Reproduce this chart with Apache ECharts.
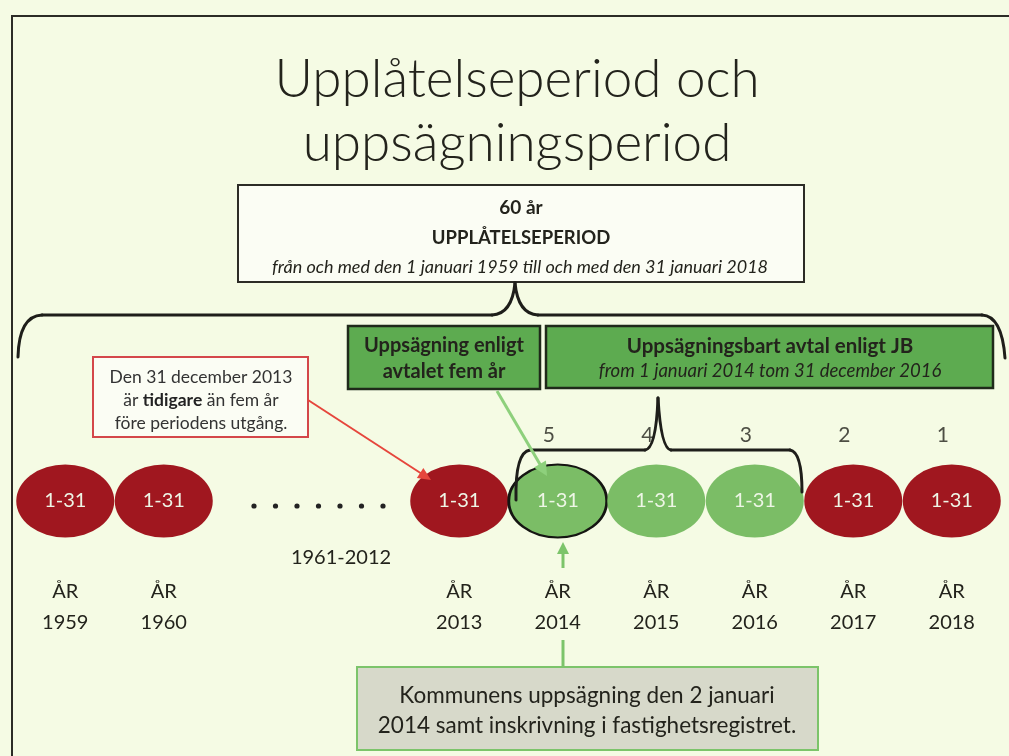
<!DOCTYPE html>
<html>
<head>
<meta charset="utf-8">
<script src="https://cdn.jsdelivr.net/npm/echarts@6/dist/echarts.min.js"></script>
<style>
  html, body { margin: 0; padding: 0; background: #f5fbe4; }
  #chart { width: 1009px; height: 756px; }
</style>
</head>
<body>
<div id="chart"></div>
<script>
  // slots on the time line, two empty ones stand for 1961-2012
  const years = ['1959', '1960', '', '', '2013', '2014', '2015', '2016', '2017', '2018'];
  const status = ['closed', 'closed', null, null, 'closed', 'open', 'open', 'open', 'closed', 'closed'];
  const countdown = [null, null, null, null, null, 5, 4, 3, 2, 1];
  const dayRange = '1-31';
  const noticeYear = '2014';

  const FONT = 'Lato, "Open Sans", sans-serif';
  const RED = '#a0171f';
  const GREEN = '#7bbd66';
  const INK = '#23231c';

  let myChart = echarts.init(document.getElementById('chart'));

  function arrowHead(x1, y1, x2, y2, len, half, color) {
    const a = Math.atan2(y2 - y1, x2 - x1);
    const bx = x2 - len * Math.cos(a), by = y2 - len * Math.sin(a);
    const nx = -Math.sin(a) * half, ny = Math.cos(a) * half;
    return {
      type: 'polygon', z: 20,
      shape: { points: [[x2, y2], [bx + nx, by + ny], [bx - nx, by - ny]] },
      style: { fill: color }
    };
  }

  function txt(x, y, text, font, fill, extra) {
    return Object.assign({
      type: 'text', z: 20, x: x, y: y,
      style: { text: text, font: font, fill: fill || INK, align: 'center', verticalAlign: 'middle' }
    }, extra || {});
  }

  // curly brace from straight lines and quadratic curves
  function brace(pts) {
    const els = [];
    const st = { stroke: '#1e1e1a', lineWidth: 3, fill: null, lineCap: 'round' };
    for (const p of pts) {
      if (p.length === 4) {
        els.push({ type: 'line', z: 12, shape: { x1: p[0], y1: p[1], x2: p[2], y2: p[3] }, style: st });
      } else {
        els.push({ type: 'bezierCurve', z: 12, shape: { x1: p[0], y1: p[1], cpx1: p[2], cpy1: p[3], x2: p[4], y2: p[5] }, style: st });
      }
    }
    return els;
  }

  const dots = [];
  for (let i = 0; i < 7; i++) {
    dots.push({ type: 'circle', z: 20, shape: { cx: 254 + i * 21.5, cy: 506, r: 2.6 }, style: { fill: '#222' } });
  }

  let option = {
    backgroundColor: '#f5fbe4',
    animation: false,
    grid: { left: 16, right: 8, top: 465, bottom: 219 },
    xAxis: {
      type: 'category',
      data: years,
      axisLine: { show: false },
      axisTick: { show: false },
      axisLabel: {
        interval: 0,
        margin: 39,
        fontFamily: FONT,
        fontSize: 20,
        lineHeight: 31,
        color: INK,
        formatter: v => v ? 'ÅR\n' + v : ''
      }
    },
    yAxis: { type: 'value', min: 0, max: 1, show: false },
    series: [
      {
        name: 'år',
        type: 'scatter',
        symbol: 'circle',
        symbolSize: [98, 73],
        z: 5,
        data: years.map((y, i) => {
          if (!status[i]) return '-';
          const item = {
            value: 0.5,
            itemStyle: { color: status[i] === 'open' ? GREEN : RED, opacity: 1 }
          };
          if (y === noticeYear) {
            item.itemStyle.borderColor = '#151512';
            item.itemStyle.borderWidth = 2.5;
            item.z = 8;
          }
          return item;
        }),
        label: {
          show: true,
          position: 'inside',
          formatter: () => dayRange,
          color: '#eef6e6',
          fontFamily: FONT,
          fontSize: 20
        }
      },
      {
        name: 'kvar',
        type: 'scatter',
        symbolSize: 0,
        data: countdown.map(c => c == null ? '-' : 0.5),
        label: {
          show: true,
          position: 'top',
          distance: 55,
          offset: [-9, 0],
          formatter: p => countdown[p.dataIndex],
          color: INK,
          fontFamily: FONT,
          fontSize: 21
        }
      }
    ],
    graphic: [
      // frame
      { type: 'polyline', z: 1, shape: { points: [[1009, 16], [12, 16], [12, 756]] }, style: { stroke: '#2c2c26', lineWidth: 2, fill: null } },
      // title
      txt(517, 80, 'Upplåtelseperiod och', '300 53px ' + FONT),
      txt(517, 144, 'uppsägningsperiod', '300 53px ' + FONT),
      // 60 år box
      { type: 'rect', z: 10, shape: { x: 238, y: 185, width: 566, height: 97 }, style: { fill: '#fbfdf4', stroke: '#2c2c26', lineWidth: 2 } },
      txt(521, 208, '60 år', 'bold 19px ' + FONT),
      txt(521, 238, 'UPPLÅTELSEPERIOD', 'bold 18.5px ' + FONT),
      txt(520, 267, 'från och med den 1 januari 1959 till och med den 31 januari 2018', 'italic 18px ' + FONT),
      // big brace
      ...brace([
        [18, 357, 19, 316, 42, 315],
        [42, 315, 492, 315],
        [492, 315, 512, 314, 515, 283],
        [515, 283, 518, 314, 538, 315],
        [538, 315, 982, 315],
        [982, 315, 1002, 316, 1005, 358]
      ]),
      // green boxes
      { type: 'rect', z: 10, shape: { x: 348, y: 326, width: 192, height: 63 }, style: { fill: '#5dab50', stroke: '#1f2a1a', lineWidth: 2.5 } },
      txt(444, 346, 'Uppsägning enligt', 'bold 20px ' + FONT),
      txt(444, 372, 'avtalet fem år', 'bold 20px ' + FONT),
      { type: 'rect', z: 10, shape: { x: 546, y: 326, width: 447, height: 62 }, style: { fill: '#5dab50', stroke: '#1f2a1a', lineWidth: 2.5 } },
      txt(770, 346, 'Uppsägningsbart avtal enligt JB', 'bold 20.5px ' + FONT),
      txt(770, 371, 'from 1 januari 2014 tom 31 december 2016', 'italic 18.5px ' + FONT),
      // red note box
      { type: 'rect', z: 10, shape: { x: 93, y: 357, width: 215, height: 80 }, style: { fill: '#fbfdf4', stroke: '#d4474a', lineWidth: 2 } },
      txt(201, 377, 'Den 31 december 2013', '17.5px ' + FONT, '#333'),
      {
        type: 'text', z: 20, x: 201, y: 400,
        style: {
          text: '{n|är }{b|tidigare}{n| än fem år}',
          align: 'center', verticalAlign: 'middle',
          rich: {
            n: { font: '17.5px ' + FONT, fill: '#333' },
            b: { font: 'bold 17.5px ' + FONT, fill: '#222' }
          }
        }
      },
      txt(201, 423, 'före periodens utgång.', '17.5px ' + FONT, '#333'),
      // red arrow
      { type: 'line', z: 20, shape: { x1: 308, y1: 400, x2: 422, y2: 474 }, style: { stroke: '#e6463c', lineWidth: 2 } },
      arrowHead(308, 400, 431, 480, 13, 6, '#e6463c'),
      // light green arrow from box
      { type: 'line', z: 20, shape: { x1: 497, y1: 391, x2: 541, y2: 466 }, style: { stroke: '#8ed07c', lineWidth: 3 } },
      arrowHead(497, 391, 547, 476, 14, 7, '#8ed07c'),
      // small brace
      ...brace([
        [516, 500, 515, 452, 530, 450],
        [530, 450, 645, 450],
        [645, 450, 656, 449, 658, 398],
        [658, 398, 661, 449, 671, 450],
        [671, 450, 790, 450],
        [790, 450, 802, 452, 802, 492]
      ]),
      // dots and the hidden years
      ...dots,
      txt(341, 558, '1961-2012', '20px ' + FONT),
      // arrow up from the bottom box
      { type: 'line', z: 20, shape: { x1: 563, y1: 568, x2: 563, y2: 552 }, style: { stroke: '#7cc46a', lineWidth: 3 } },
      arrowHead(563, 568, 563, 542, 12, 6, '#7cc46a'),
      { type: 'line', z: 20, shape: { x1: 563, y1: 640, x2: 563, y2: 667 }, style: { stroke: '#7cc46a', lineWidth: 3 } },
      // bottom box
      { type: 'rect', z: 10, shape: { x: 357, y: 667, width: 461, height: 83 }, style: { fill: '#d7d9ca', stroke: '#7cc46a', lineWidth: 2 } },
      txt(587, 696, 'Kommunens uppsägning den 2 januari', '22.5px ' + FONT),
      txt(587, 726, '2014 samt inskrivning i fastighetsregistret.', '22.5px ' + FONT)
    ]
  };
  option && myChart.setOption(option);
</script>
</body>
</html>
